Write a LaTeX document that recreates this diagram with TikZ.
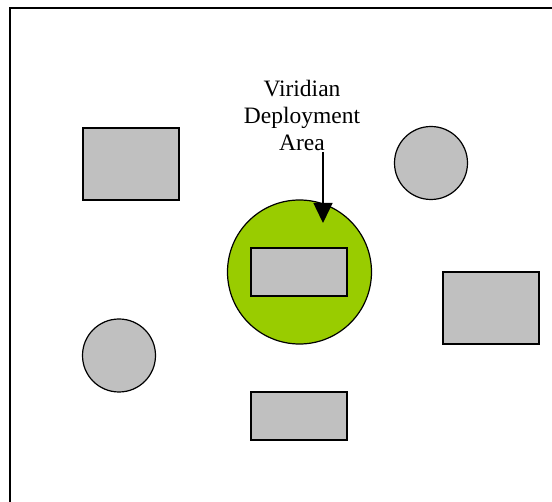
\documentclass[tikz,border=0pt]{standalone}
\usepackage{fontspec}
\setmainfont{Liberation Serif}
\usetikzlibrary{arrows.meta}
\definecolor{boxgray}{HTML}{C0C0C0}
\definecolor{viridian}{HTML}{99CC00}
\tikzset{
  graybox/.style={draw=black, line width=1.6pt, fill=boxgray, rectangle, inner sep=0pt},
  graydisc/.style={draw=black, line width=1.2pt, fill=boxgray, circle, inner sep=0pt, minimum size=73pt},
  greendisc/.style={draw=black, line width=1.2pt, fill=viridian, circle, inner sep=0pt, minimum size=144pt},
  lbl/.style={align=center, inner sep=0pt, font=\fontsize{23.5}{27}\selectfont},
  pointer/.style={line width=1.5pt, -{Triangle[length=20pt,width=19pt]}}
}
\begin{document}
\begin{tikzpicture}[x=1pt, y=-1pt]
  \useasboundingbox (0,0) rectangle (552,502);
  \fill[white] (0,0) rectangle (552,502);
  % frame (right and bottom sides lie outside the picture)
  \draw[line width=2pt] (10,502) -- (10,8) -- (552,8);
  % shapes
  \node[graybox, minimum width=96pt, minimum height=72pt] (tl) at (131,164) {};
  \node[graydisc] (tr) at (431,163) {};
  \node[greendisc] (area) at (299.5,272) {};
  \node[graybox, minimum width=96pt, minimum height=48pt] (inner) at (299,272) {};
  \node[graybox, minimum width=96pt, minimum height=72pt] (rr) at (491,308) {};
  \node[graydisc] (bl) at (119,355.5) {};
  \node[graybox, minimum width=96pt, minimum height=48pt] (bot) at (299,416) {};
  % label and arrow
  \node[lbl, anchor=north] (label) at (302,80) {Viridian\\Deployment\\Area};
  \coordinate (arrS) at (323,152);
  \coordinate (arrE) at (323,223);
  \draw[pointer] (arrS) -- (arrE);
\end{tikzpicture}
\end{document}
